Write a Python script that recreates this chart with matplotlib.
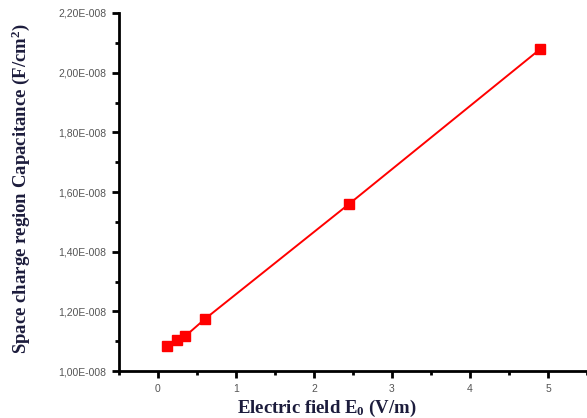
import numpy as np
import matplotlib
matplotlib.use("Agg")
import matplotlib.pyplot as plt
from matplotlib.ticker import MultipleLocator, FuncFormatter

plt.rcParams["mathtext.fontset"] = "custom"
plt.rcParams["mathtext.rm"] = "Liberation Serif:bold"
plt.rcParams["mathtext.it"] = "Liberation Serif:bold"
plt.rcParams["mathtext.bf"] = "Liberation Serif:bold"

# data
field = [0.12, 0.24, 0.35, 0.60, 2.45, 4.90]
capacitance = [1.084e-8, 1.104e-8, 1.117e-8, 1.174e-8, 1.560e-8, 2.079e-8]

fig = plt.figure(figsize=(5.87, 4.18), dpi=100)
ax = fig.add_axes([0.2027, 0.1124, 0.7973, 0.8565])

ax.plot(field, capacitance, color="red", lw=1.4, marker="s", ms=6.5,
        markerfacecolor="red", markeredgecolor="red")

ax.set_xlim(-0.5, 5.5)
ax.set_ylim(1.0e-8, 2.2e-8)
ax.xaxis.set_major_locator(MultipleLocator(1))
ax.xaxis.set_minor_locator(MultipleLocator(0.5))
ax.yaxis.set_major_locator(MultipleLocator(0.2e-8))
ax.yaxis.set_minor_locator(MultipleLocator(0.1e-8))

def sci(v, pos):
    m, e = ("%.2E" % v).split("E")
    return "%sE%s%03d" % (m.replace(".", ","), e[0], abs(int(e)))

ax.yaxis.set_major_formatter(FuncFormatter(sci))
ax.xaxis.set_major_formatter(FuncFormatter(lambda v, p: "%d" % v))

for s in ["top", "right"]:
    ax.spines[s].set_visible(False)
for s in ["left", "bottom"]:
    ax.spines[s].set_linewidth(2)

ax.tick_params(which="major", direction="out", length=5, width=2,
               labelsize=7.5, labelcolor="#555555", pad=4)
ax.tick_params(which="minor", direction="out", length=3, width=2)
for t in ax.get_xticklabels() + ax.get_yticklabels():
    t.set_family("Liberation Sans")

lab = dict(family="Liberation Serif", fontweight="bold", fontsize=13.5,
           color="#1c1c3c")
ax.set_xlabel("Electric field E$_0$ (V/m)", **lab)
ax.set_ylabel("Space charge region Capacitance (F/cm$^2$)", **lab)
ax.xaxis.set_label_coords(0.444, -0.075)
ax.yaxis.set_label_coords(-0.186, 0.51)

fig.savefig("out.png", dpi=100)
